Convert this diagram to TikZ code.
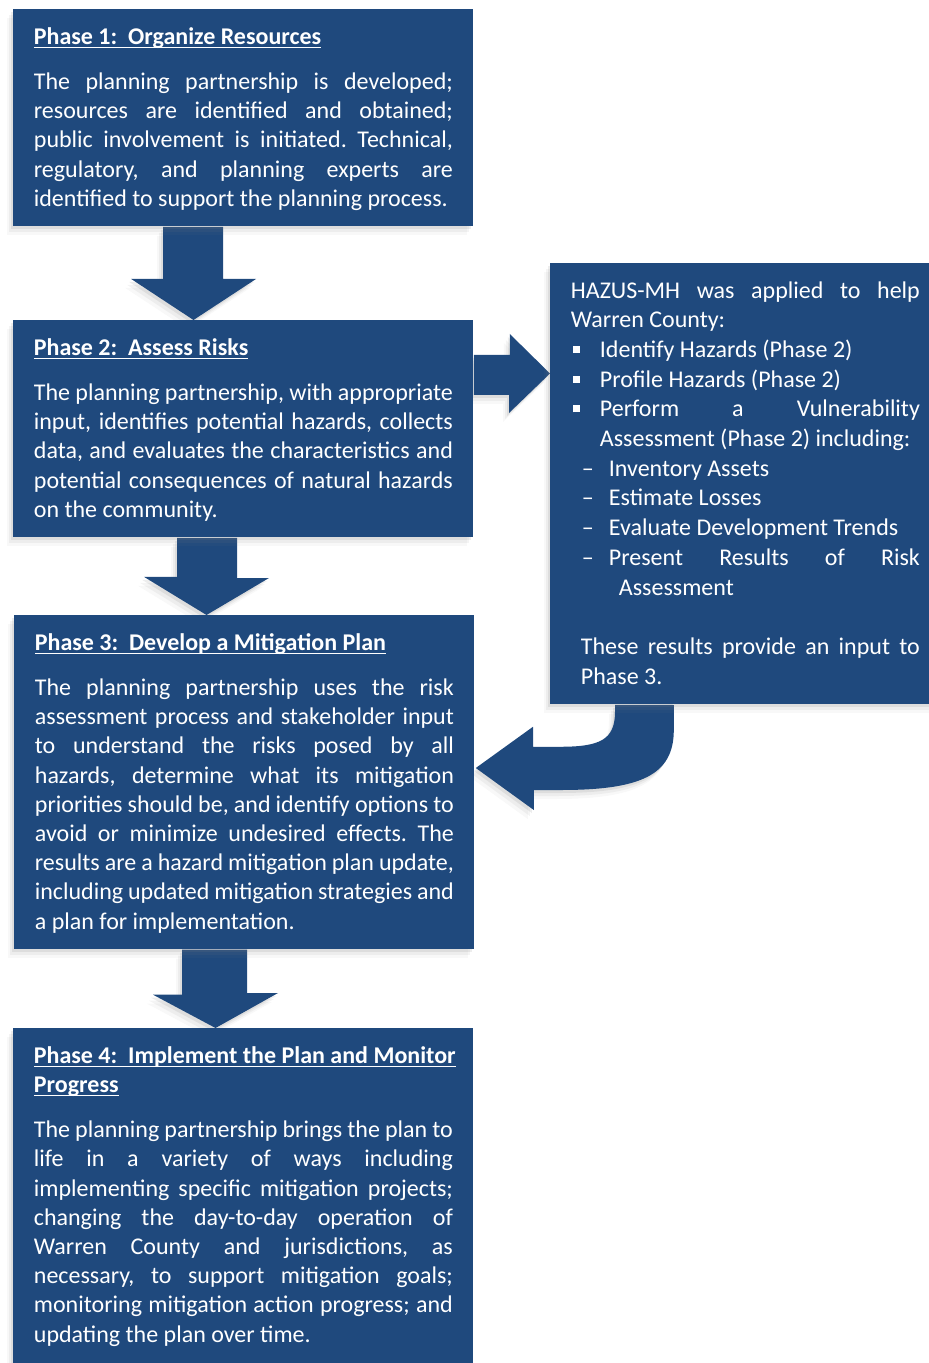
\documentclass[tikz,border=0pt]{standalone}
\usepackage{fontspec}
\setmainfont{Carlito}
\usetikzlibrary{calc,shadows,backgrounds}
\definecolor{hazblue}{RGB}{31,73,125}
\setlength\parindent{0pt}
\frenchspacing
\hbadness=10000
\hyphenpenalty=10000
\tolerance=9999
\newcommand\hzul[1]{\setbox0\hbox{#1}\rlap{\rule[-1.9pt]{\wd0}{0.6pt}}\box0}
\newcommand\hzend{\rule[-2.4pt]{0pt}{2.4pt}\par\kern-1.3pt}
\newcommand\hzbullet[1]{{\leftskip=14.5pt\noindent\llap{\rule[2.2pt]{3.5pt}{3.5pt}\hskip 10pt}#1\par}}
\newcommand\hzdash[1]{{\leftskip=24pt\noindent\hskip-5pt\llap{–\hskip 7.6pt}#1\par}}

\begin{document}
\begin{tikzpicture}[
    x=0.5pt, y=-0.5pt,
    hazshadow/.style={drop shadow={shadow xshift=-1pt, shadow yshift=-1.5pt, opacity=.14},
                      drop shadow={shadow xshift=-2pt, shadow yshift=-3pt, opacity=.09},
                      drop shadow={shadow xshift=-3pt, shadow yshift=-4.5pt, opacity=.06}},
    phase/.style={fill=hazblue, text=white, anchor=north west, text width=209.5pt, inner xsep=10.25pt, inner ysep=9pt, align=justify, font=\fontsize{12pt}{14.6pt}\selectfont, hazshadow},
    hazus/.style={phase, text width=174.5pt, font=\fontsize{12pt}{14.85pt}\selectfont},
    blockarrow/.style={fill=hazblue, hazshadow}
]
\useasboundingbox (0,0) rectangle (928,1363);

\node[phase] (p1) at (13,9) {\hzul{\textbf{Phase 1:\ \ Organize Resources}}\par\vskip 8pt
The planning partnership is developed;\linebreak resources are identified and obtained;\linebreak public involvement is initiated. Technical,\linebreak regulatory, and planning experts are\linebreak identified to support the planning process.\hzend};

\node[phase] (p2) at (13,320) {\hzul{\textbf{Phase 2:\ \ Assess Risks}}\par\vskip 8pt
The planning partnership, with appropriate\linebreak input, identifies potential hazards, collects\linebreak data, and evaluates the characteristics and\linebreak potential consequences of natural hazards\linebreak on the community.\hzend};

\node[phase] (p3) at (14,615) {\hzul{\textbf{Phase 3:\ \ Develop a Mitigation Plan}}\par\vskip 8pt
The planning partnership uses the risk\linebreak assessment process and stakeholder input\linebreak to understand the risks posed by all\linebreak hazards, determine what its mitigation\linebreak priorities should be, and identify options to\linebreak avoid or minimize undesired effects. The\linebreak results are a hazard mitigation plan update,\linebreak including updated mitigation strategies and\linebreak a plan for implementation.\hzend};

\node[phase] (p4) at (13,1028) {\hzul{\textbf{Phase 4:\ \ Implement the Plan and Monitor}}\\\hzul{\textbf{Progress}}\par\vskip 8pt
The planning partnership brings the plan to\linebreak life in a variety of ways including\linebreak implementing specific mitigation projects;\linebreak changing the day-to-day operation of\linebreak Warren County and jurisdictions, as\linebreak necessary, to support mitigation goals;\linebreak monitoring mitigation action progress; and\linebreak updating the plan over time.\hzend\kern8pt};

\node[hazus] (hz) at (550,263) {HAZUS-MH was applied to help\linebreak Warren County:\par
\hzbullet{Identify Hazards (Phase 2)}
\hzbullet{Profile Hazards (Phase 2)}
\hzbullet{Perform a Vulnerability\linebreak Assessment (Phase 2) including:}
\hzdash{Inventory Assets}
\hzdash{Estimate Losses}
\hzdash{Evaluate Development Trends}
\hzdash{Present Results of Risk\linebreak Assessment}
\vskip 14.85pt
{\leftskip=5pt These results provide an input to\linebreak Phase 3.\hzend}};

% block arrows behind the boxes
\begin{scope}[on background layer]
\fill[blockarrow] ($(p1.south west)+(150,0)$) |- ++(-32,52) -- ($(p2.north west)+(180.5,0)$) -- ++(62.5,-41) -| ($(p1.south west)+(210,0)$) -- cycle;
\fill[blockarrow] ($(p2.south west)+(164,0)$) |- ++(-33,39) -- ($(p3.north west)+(192.5,0)$) -- ++(62.5,-37) -| ($(p2.south west)+(224,0)$) -- cycle;
\fill[blockarrow] ($(p3.south west)+(168,0)$) |- ++(-29,45) -- ($(p4.north west)+(202.5,0)$) -- ++(62.5,-35) -| ($(p3.south west)+(233,0)$) -- cycle;
\fill[blockarrow] ($(p2.north east)+(0,35)$) -| ++(36,-21) -- ($(hz.north west)+(0,110.5)$) -- ++(-41,39.5) |- ($(p2.north east)+(0,75)$) -- cycle;
\fill[blockarrow] ($(hz.south west)+(65,0)$) -- ++(0,7) .. controls +(0,28) and +(40,0) .. ++(-55,35) -- ++(-27,0) -- ++(0,-20) -- ($(p3.north east)+(1,153)$) -- ++(58,42) -- ++(0,-20) -- ++(27,0) .. controls +(80,0) and +(0,45) .. ++(113,-60) -- ++(0,-25) -- cycle;
\end{scope}
\end{tikzpicture}
\end{document}
